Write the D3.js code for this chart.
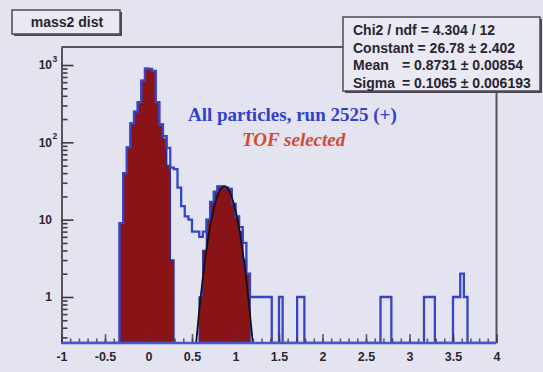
<!DOCTYPE html>
<html>
<head>
<meta charset="utf-8">
<script src="https://cdn.jsdelivr.net/npm/d3@7"></script>
<style>
  html, body { margin: 0; padding: 0; background: #e3e4ef; }
  svg { display: block; }
</style>
</head>
<body>
<svg id="chart" width="543" height="372"></svg>
<script>
// ---- Histogram definition: mass² spectrum, 120 bins over [-1, 4] ----
const xRange = [-1, 4];
const nBins = 120;

// All particles (run 2525, positive charge)
const allCounts = [
  0, 0, 0, 0, 0, 0, 0, 0, 0, 0, 0, 0,
  0, 0, 0, 0, 9, 40, 86, 176, 250, 330, 630, 900,
  890, 840, 330, 170, 120, 85, 47, 45, 26, 15, 11, 10,
  7, 7, 6, 7, 10, 17, 23, 27, 27, 26, 25, 16,
  11, 8, 5, 2, 1, 1, 1, 1, 1, 1, 0, 0,
  1, 0, 0, 0, 0, 1, 1, 0, 0, 0, 0, 0,
  0, 0, 0, 0, 0, 0, 0, 0, 0, 0, 0, 0,
  0, 0, 0, 0, 1, 1, 1, 0, 0, 0, 0, 0,
  0, 0, 0, 0, 1, 1, 1, 0, 0, 0, 0, 0,
  1, 1, 2, 1, 0, 0, 0, 0, 0, 0, 0, 0
];

// TOF-selected particles
const tofCounts = [
  0, 0, 0, 0, 0, 0, 0, 0, 0, 0, 0, 0,
  0, 0, 0, 0, 9, 40, 86, 176, 250, 330, 630, 900,
  890, 840, 330, 170, 110, 50, 3, 0, 0, 0, 0, 0,
  0, 0, 1, 4, 10, 17, 23, 27, 27, 26, 25, 16,
  11, 7, 3, 2, 0, 0, 0, 0, 0, 0, 0, 0,
  0, 0, 0, 0, 0, 0, 0, 0, 0, 0, 0, 0,
  0, 0, 0, 0, 0, 0, 0, 0, 0, 0, 0, 0,
  0, 0, 0, 0, 0, 0, 0, 0, 0, 0, 0, 0,
  0, 0, 0, 0, 0, 0, 0, 0, 0, 0, 0, 0,
  0, 0, 0, 0, 0, 0, 0, 0, 0, 0, 0, 0
];

// Gaussian fit to the second peak
const fitConstant = 26.78;
const fitMean = 0.8731;
const fitSigma = 0.1065;
const fitRange = [0.4, 1.35];

// Stats box lines: [name, value text]
const statNames = ["Chi2 / ndf", "Constant", "Mean", "Sigma"];
const statValues = ["= 4.304 / 12", "= 26.78 \u00b1 2.402", "= 0.8731 \u00b1 0.00854", "= 0.1065 \u00b1 0.006193"];

// Axis ticks and labels
const xMajorTicks = [-1, -0.5, 0, 0.5, 1, 1.5, 2, 2.5, 3, 3.5, 4];
const xMinorTicks = d3.range(-10, 41).map(d => d / 10);
const yMajorTicks = [1, 10, 100, 1000];
const yTickBase = ["1", "10", "10", "10"];
const yTickExp = ["", "", "2", "3"];
const yMinorTicks = [0.3, 0.4, 0.5, 0.6, 0.7, 0.8, 0.9,
  2, 3, 4, 5, 6, 7, 8, 9, 20, 30, 40, 50, 60, 70, 80, 90,
  200, 300, 400, 500, 600, 700, 800, 900];
const yRange = [0.254, 1710];

const titleText = "mass2 dist";
const labelAll = "All particles, run 2525 (+)";
const labelTof = "TOF selected";

// ---- Layout ----
const frame = { left: 61.5, right: 496.5, top: 47, bottom: 343 };
const svg = d3.select("#chart");

const x = d3.scaleLinear().domain(xRange).range([frame.left, frame.right]);
const y = d3.scaleLog().domain(yRange).range([frame.bottom, frame.top]);

const binWidth = (xRange[1] - xRange[0]) / nBins;

svg.append("defs").append("clipPath").attr("id", "frameClip")
  .append("rect")
  .attr("x", frame.left).attr("y", frame.top)
  .attr("width", frame.right - frame.left).attr("height", frame.bottom - frame.top);

// Step outline of a histogram; empty bins sit on the bottom of the frame
function histPath(counts) {
  const p = d3.path();
  p.moveTo(x(xRange[0]), frame.bottom);
  counts.forEach((c, i) => {
    const lo = xRange[0] + i * binWidth;
    const hi = lo + binWidth;
    const yy = c > 0 ? Math.max(y(c), frame.top) : frame.bottom;
    p.lineTo(x(lo), yy);
    p.lineTo(x(hi), yy);
  });
  p.lineTo(x(xRange[1]), frame.bottom);
  return p.toString();
}

const plot = svg.append("g").attr("clip-path", "url(#frameClip)");

// TOF-selected histogram (filled)
plot.append("path")
  .attr("d", histPath(tofCounts) + "Z")
  .attr("fill", "#8a1317")
  .attr("stroke", "#2c309c")
  .attr("stroke-width", 1.6)
  .attr("stroke-linejoin", "miter");

// All-particles histogram (outline)
plot.append("path")
  .attr("d", histPath(allCounts))
  .attr("fill", "none")
  .attr("stroke", "#3645c6")
  .attr("stroke-width", 2.3)
  .attr("stroke-linejoin", "miter");

// Gaussian fit curve
const fitPts = d3.range(fitRange[0], fitRange[1] + 1e-9, 0.004).map(v => [v,
  fitConstant * Math.exp(-0.5 * Math.pow((v - fitMean) / fitSigma, 2))]);
plot.append("path")
  .datum(fitPts.filter(d => d[1] > yRange[0] * 0.5))
  .attr("d", d3.line().x(d => x(d[0])).y(d => y(Math.max(d[1], yRange[0] * 0.5))))
  .attr("fill", "none")
  .attr("stroke", "#141018")
  .attr("stroke-width", 1.8);

// ---- Frame ----
const frameColor = "#58535e";
svg.append("line").attr("x1", frame.left).attr("x2", frame.right)
  .attr("y1", frame.top).attr("y2", frame.top)
  .attr("stroke", frameColor).attr("stroke-width", 2);
svg.append("line").attr("x1", frame.right).attr("x2", frame.right)
  .attr("y1", frame.top).attr("y2", frame.bottom)
  .attr("stroke", frameColor).attr("stroke-width", 2);

// ---- Y axis (log), ticks pointing into the frame ----
const axisColor = "#3e3844";
const yAxisMajor = d3.axisLeft(y).tickValues(yMajorTicks).tickSizeInner(-12).tickSizeOuter(0).tickFormat("");
const yAxisMinor = d3.axisLeft(y).tickValues(yMinorTicks).tickSizeInner(-6).tickSizeOuter(0).tickFormat("");
[yAxisMinor, yAxisMajor].forEach(ax => {
  const g = svg.append("g").attr("transform", `translate(${frame.left},0)`).call(ax);
  g.select(".domain").attr("stroke", frameColor).attr("stroke-width", 2);
  g.selectAll(".tick line").attr("stroke", axisColor).attr("stroke-width", 1.6);
});

const yLab = svg.append("g")
  .attr("font-family", "'Liberation Sans', Arial, sans-serif")
  .attr("font-weight", "bold")
  .attr("fill", "#2c2630");
yMajorTicks.forEach((v, i) => {
  yLab.append("text")
    .attr("x", 52).attr("y", y(v)).attr("dy", "0.36em")
    .attr("text-anchor", "end").attr("font-size", 12)
    .text(yTickBase[i]);
  if (yTickExp[i]) {
    yLab.append("text")
      .attr("x", 52.5).attr("y", y(v) - 3)
      .attr("font-size", 8.5)
      .text(yTickExp[i]);
  }
});

// ---- X axis, ticks pointing up ----
const xAxisMajor = d3.axisBottom(x).tickValues(xMajorTicks).tickSizeInner(-9).tickSizeOuter(0)
  .tickPadding(9).tickFormat(d => String(d));
const xAxisMinor = d3.axisBottom(x).tickValues(xMinorTicks).tickSizeInner(-4.5).tickSizeOuter(0).tickFormat("");
const gxMinor = svg.append("g").attr("transform", `translate(0,${frame.bottom})`).call(xAxisMinor);
const gxMajor = svg.append("g").attr("transform", `translate(0,${frame.bottom})`).call(xAxisMajor);
[gxMinor, gxMajor].forEach(g => {
  g.select(".domain").remove();
  g.selectAll(".tick line").attr("stroke", axisColor).attr("stroke-width", 1.6).attr("opacity", 0.8);
});
gxMajor.selectAll(".tick text")
  .attr("font-family", "'Liberation Sans', Arial, sans-serif")
  .attr("font-weight", "bold")
  .attr("font-size", 12.5)
  .attr("fill", "#2c2630");

// Blue baseline along the bottom of the frame
svg.append("line")
  .attr("x1", frame.left).attr("x2", frame.right)
  .attr("y1", frame.bottom).attr("y2", frame.bottom)
  .attr("stroke", "#4a56cc").attr("stroke-width", 2.3);

// ---- Title box ----
const tb = { x: 12, y: 10, w: 108, h: 24 };
svg.append("rect").attr("x", tb.x + 2).attr("y", tb.y + 2).attr("width", tb.w).attr("height", tb.h)
  .attr("fill", "#4e4954");
svg.append("rect").attr("x", tb.x).attr("y", tb.y).attr("width", tb.w).attr("height", tb.h)
  .attr("fill", "#e8e9f2").attr("stroke", "#4e4954").attr("stroke-width", 1.5);
svg.append("text")
  .attr("x", tb.x + tb.w / 2 + 1).attr("y", tb.y + 17)
  .attr("text-anchor", "middle")
  .attr("font-family", "'Liberation Sans', Arial, sans-serif")
  .attr("font-weight", "bold").attr("font-size", 14)
  .attr("fill", "#2a2430")
  .text(titleText);

// ---- Stats box ----
const sb = { x: 343, y: 17, w: 197, h: 74 };
svg.append("rect").attr("x", sb.x + 2).attr("y", sb.y + 2).attr("width", sb.w).attr("height", sb.h)
  .attr("fill", "#4e4954");
svg.append("rect").attr("x", sb.x).attr("y", sb.y).attr("width", sb.w).attr("height", sb.h)
  .attr("fill", "#e8e9f2").attr("stroke", "#4e4954").attr("stroke-width", 1.5);
const st = svg.append("g")
  .attr("font-family", "'Liberation Sans', Arial, sans-serif")
  .attr("font-weight", "bold").attr("font-size", 14)
  .attr("fill", "#2a2430");
statNames.forEach((name, i) => {
  const by = sb.y + 18 + i * 17.5;
  if (i < 2) {
    st.append("text").attr("x", sb.x + 10).attr("y", by).text(name + " " + statValues[i]);
  } else {
    st.append("text").attr("x", sb.x + 10).attr("y", by).text(name);
    st.append("text").attr("x", sb.x + 59).attr("y", by).text(statValues[i]);
  }
});

// ---- Labels ----
svg.append("text")
  .attr("x", 188).attr("y", 121)
  .attr("font-family", "'Liberation Serif', 'Times New Roman', serif")
  .attr("font-weight", "bold").attr("font-size", 19)
  .attr("fill", "#3242c8")
  .text(labelAll);
svg.append("text")
  .attr("x", 242).attr("y", 146)
  .attr("font-family", "'Liberation Serif', 'Times New Roman', serif")
  .attr("font-weight", "bold").attr("font-style", "italic").attr("font-size", 19)
  .attr("fill", "#d24a30")
  .text(labelTof);
</script>
</body>
</html>
